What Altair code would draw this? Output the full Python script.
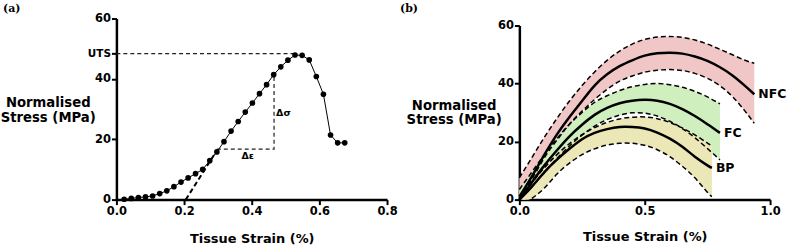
import altair as alt
import pandas as pd

# ---------------- panel (a): single stress-strain curve ----------------
strain_a = [0.023, 0.044, 0.065, 0.086, 0.107, 0.128, 0.149, 0.170, 0.191, 0.212,
            0.234, 0.255, 0.276, 0.297, 0.318, 0.339, 0.360, 0.381, 0.402, 0.423,
            0.444, 0.465, 0.486, 0.507, 0.528, 0.549, 0.570, 0.591, 0.612, 0.633,
            0.654, 0.675]
stress_a = [0.1, 0.4, 0.7, 0.9, 1.2, 2.0, 2.9, 4.3, 5.8, 7.2,
            8.6, 10.0, 12.9, 15.8, 19.2, 22.7, 25.9, 29.0, 32.0, 35.1,
            38.1, 41.4, 44.0, 46.2, 47.9, 47.8, 46.3, 40.8, 34.9, 21.4,
            18.8, 18.8]
uts_value = 48.4
uts_x = [0.0, 0.528]
tangent_x = [0.205, 0.292]
tangent_y = [0.0, 15.4]
delta_x = [0.297, 0.466, 0.466]
delta_y = [16.7, 16.7, 41.4]
delta_text = ["Δσ", "Δε"]
delta_text_x = [0.472, 0.388]
delta_text_y = [28.6, 14.3]
delta_text_align = ["left", "center"]
x_ticks_a = [0.0, 0.2, 0.4, 0.6, 0.8]
y_ticks_a = [0, 20, 40, 48.4, 60]

# ---------------- panel (b): fitted curves with bands ----------------
nfc_x = [0.0, 0.05, 0.1, 0.15, 0.2, 0.25, 0.3, 0.35, 0.4, 0.45,
         0.5, 0.55, 0.6, 0.65, 0.7, 0.75, 0.8, 0.85, 0.9, 0.937]
nfc_upper = [7.5, 14.5, 21.5, 28.0, 34.0, 39.3, 44.0, 48.0, 51.2, 53.6,
             55.2, 56.0, 56.2, 55.9, 55.0, 53.6, 51.8, 49.9, 48.0, 47.0]
nfc_mean = [1.0, 8.0, 15.5, 22.5, 28.5, 34.0, 39.3, 43.2, 46.0, 48.0,
            49.6, 50.4, 50.6, 50.3, 49.3, 47.8, 45.6, 42.8, 39.2, 36.3]
nfc_lower = [0.5, 7.0, 14.5, 20.5, 26.0, 30.5, 34.5, 38.0, 40.8, 42.6,
             43.9, 44.6, 44.8, 44.5, 43.5, 41.8, 39.2, 35.5, 30.5, 26.3]

fc_x = [0.0, 0.05, 0.1, 0.15, 0.2, 0.25, 0.3, 0.35, 0.4, 0.45,
        0.5, 0.55, 0.6, 0.65, 0.7, 0.75, 0.8]
fc_upper = [3.5, 9.5, 15.5, 21.0, 26.0, 30.0, 33.5, 35.8, 37.6, 38.9,
            39.7, 40.0, 39.6, 38.7, 37.3, 35.4, 33.0]
fc_mean = [0.0, 6.0, 11.8, 17.0, 21.8, 25.8, 29.2, 31.6, 33.2, 34.1,
           34.4, 34.1, 33.0, 31.2, 28.8, 26.0, 23.0]
fc_lower = [0.0, 4.5, 9.5, 14.2, 18.5, 22.2, 25.3, 27.6, 29.1, 29.9,
            29.8, 28.8, 27.0, 24.5, 21.3, 17.6, 13.7]

bp_x = [0.0, 0.05, 0.1, 0.15, 0.2, 0.25, 0.3, 0.35, 0.4, 0.45,
        0.5, 0.55, 0.6, 0.65, 0.7, 0.75, 0.768]
bp_upper = [0.5, 5.8, 11.0, 15.5, 19.3, 22.4, 24.8, 26.6, 27.8, 28.4,
            28.5, 27.9, 26.6, 24.7, 22.3, 19.5, 18.5]
bp_mean = [0.0, 4.5, 9.5, 13.8, 17.5, 20.8, 23.0, 24.3, 25.0, 25.0,
           24.5, 23.1, 21.0, 18.2, 14.8, 11.8, 10.9]
bp_lower = [0.0, 0.4, 4.0, 8.8, 12.6, 15.5, 17.5, 18.8, 19.4, 19.4,
            18.7, 17.2, 14.8, 11.5, 7.5, 2.5, 1.0]

group_names = ["NFC", "FC", "BP"]
band_colors = ["#f1c6c6", "#d0efbf", "#ece7b6"]
x_ticks_b = [0.0, 0.5, 1.0]
y_ticks_b = [0, 20, 40, 60]
panel_labels = ["(a)", "(b)"]

FONT = "DejaVu Sans"
H = 182

# ---------------- helpers ----------------
def x_enc(domain, values, title_y):
    return alt.X("x:Q", scale=alt.Scale(domain=domain, nice=False, zero=False),
                 axis=alt.Axis(values=values, format=".1f", labelFlush=False,
                               title="Tissue Strain (%)", titleY=title_y,
                               titleBaseline="alphabetic", titleFontSize=13))


def y_enc_a():
    return alt.Y("y:Q", scale=alt.Scale(domain=[0, 60], nice=False),
                 axis=alt.Axis(values=y_ticks_a, format=".0f",
                               labelExpr="datum.value == 48.4 ? 'UTS' : datum.label",
                               labelFontSize=alt.condition("datum.value == 48.4",
                                                           alt.value(10.5), alt.value(11.5)),
                               title=["Normalised", "Stress (MPa)"], titleAngle=0,
                               titleAlign="center", titleBaseline="alphabetic",
                               titleX=-69, titleY=88, titleLineHeight=15))


def y_enc_b():
    return alt.Y("y:Q", scale=alt.Scale(domain=[0, 60], nice=False, range=[H, 7]),
                 axis=alt.Axis(values=y_ticks_b, format=".0f",
                               title=["Normalised", "Stress (MPa)"], titleAngle=0,
                               titleAlign="center", titleBaseline="alphabetic",
                               titleX=-66, titleY=91, titleLineHeight=15))


def panel_tag(text, px):
    return alt.Chart(pd.DataFrame({"t": [text]})).mark_text(
        font="DejaVu Serif", fontWeight="bold", fontSize=11, align="left", baseline="top",
        color="black").encode(x=alt.value(px), y=alt.value(-16), text="t:N")


# ---------------- panel (a) ----------------
df_a = pd.DataFrame({"x": strain_a, "y": stress_a})
df_uts = pd.DataFrame({"x": uts_x, "y": [uts_value, uts_value]})
df_tan = pd.DataFrame({"x": tangent_x, "y": tangent_y})
df_delta = pd.DataFrame({"x": delta_x, "y": delta_y, "i": list(range(len(delta_x)))})
df_dtext = pd.DataFrame({"x": delta_text_x, "y": delta_text_y, "t": delta_text,
                         "al": delta_text_align})

xa = lambda: x_enc([0, 0.8], x_ticks_a, 43)

a_line = alt.Chart(df_a).mark_line(color="black", strokeWidth=1).encode(x=xa(), y=y_enc_a())
a_pts = alt.Chart(df_a).mark_circle(color="black", size=32, opacity=1).encode(x=xa(), y=y_enc_a())
a_uts = alt.Chart(df_uts).mark_line(color="#222222", strokeWidth=1.2, strokeDash=[4, 3]).encode(
    x=xa(), y=y_enc_a())
a_tan = alt.Chart(df_tan).mark_line(color="black", strokeWidth=2, strokeDash=[5, 3]).encode(
    x=xa(), y=y_enc_a())
a_delta = alt.Chart(df_delta).mark_line(color="#222222", strokeWidth=1.2, strokeDash=[4, 3]).encode(
    x=xa(), y=y_enc_a(), order="i:Q")
a_txt_l = alt.Chart(df_dtext[df_dtext["al"] == "left"]).mark_text(
    font=FONT, fontWeight="bold", fontSize=9.5, align="left", baseline="middle", color="black"
).encode(x=xa(), y=y_enc_a(), text="t:N")
a_txt_c = alt.Chart(df_dtext[df_dtext["al"] == "center"]).mark_text(
    font=FONT, fontWeight="bold", fontSize=9.5, align="center", baseline="middle", color="black"
).encode(x=xa(), y=y_enc_a(), text="t:N")

panel_a = alt.layer(a_uts, a_delta, a_tan, a_line, a_pts, a_txt_l, a_txt_c,
                    panel_tag(panel_labels[0], -114)).properties(width=272, height=H)

# ---------------- panel (b) ----------------
groups = [
    ("NFC", nfc_x, nfc_upper, nfc_mean, nfc_lower, band_colors[0]),
    ("FC", fc_x, fc_upper, fc_mean, fc_lower, band_colors[1]),
    ("BP", bp_x, bp_upper, bp_mean, bp_lower, band_colors[2]),
]

xb = lambda: x_enc([0, 1.0], x_ticks_b, 41)

band_layers = []
dash_rows = []
mean_rows = []
label_rows = []
for name, xs, up, mn, lo, col in groups:
    dfb = pd.DataFrame({"x": xs, "y": up, "y2": lo})
    band_layers.append(
        alt.Chart(dfb).mark_area(color=col, opacity=1, interpolate="natural").encode(
            x=xb(), y=y_enc_b(), y2="y2:Q"))
    for xv, yv in zip(xs, up):
        dash_rows.append({"x": xv, "y": yv, "s": name + "_up"})
    for xv, yv in zip(xs, lo):
        if name == "BP" and xv < 0.04:
            continue
        dash_rows.append({"x": xv, "y": yv, "s": name + "_lo"})
    for xv, yv in zip(xs, mn):
        mean_rows.append({"x": xv, "y": yv, "s": name})
    label_rows.append({"x": xs[-1], "y": mn[-1], "t": name})

df_dash = pd.DataFrame(dash_rows)
df_mean = pd.DataFrame(mean_rows)
df_lab = pd.DataFrame(label_rows)

b_dash = alt.Chart(df_dash).mark_line(color="black", strokeWidth=1.5, strokeDash=[5, 3],
                                      interpolate="natural").encode(
    x=xb(), y=y_enc_b(), detail="s:N")
b_mean = alt.Chart(df_mean).mark_line(color="black", strokeWidth=2.5,
                                      interpolate="natural").encode(
    x=xb(), y=y_enc_b(), detail="s:N")
b_lab = alt.Chart(df_lab).mark_text(font=FONT, fontWeight="bold", fontSize=12.5, align="left",
                                    baseline="middle", dx=4, color="black").encode(
    x=xb(), y=y_enc_b(), text="t:N")

panel_b = alt.layer(*band_layers, b_dash, b_mean, b_lab,
                    panel_tag(panel_labels[1], -120)).properties(width=252, height=H)

chart = alt.hconcat(panel_a, panel_b, spacing=2).properties(
    padding={"left": 0, "top": 2, "right": 0, "bottom": 0},
    background="white"
).configure_view(stroke=None).configure_axis(
    grid=False, domainColor="black", domainWidth=2.5, tickColor="black", tickWidth=2,
    tickSize=5, labelFont=FONT, labelFontSize=11.5, labelFontWeight="bold", labelColor="black",
    labelPadding=1, titleFont=FONT, titleFontWeight="bold", titleFontSize=13.3, titleColor="black"
)

chart.save("out.html", embed_options={"renderer": "svg", "actions": False})
